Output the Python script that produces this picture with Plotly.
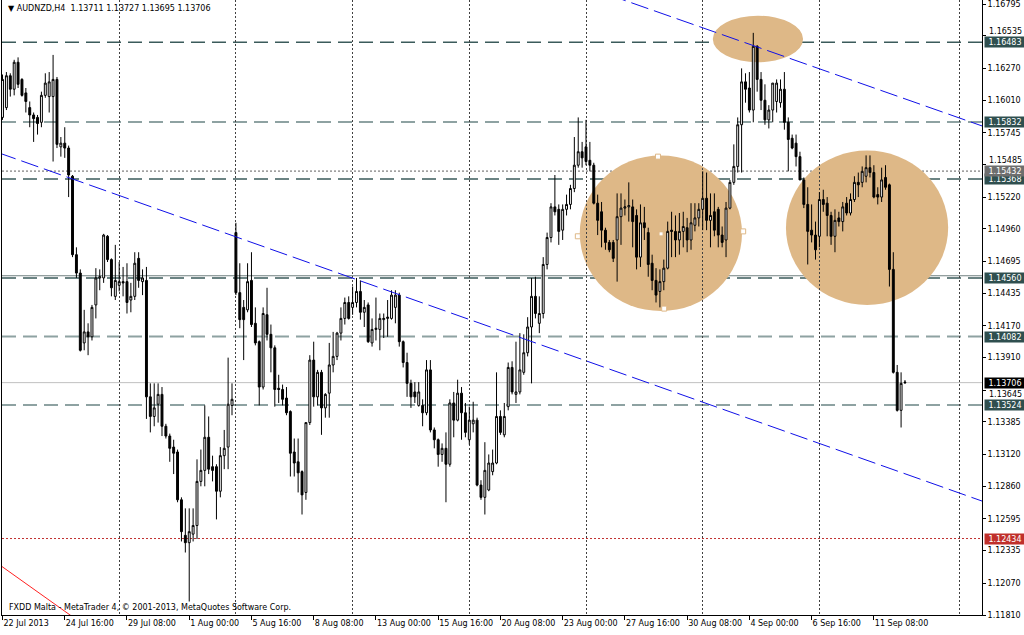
import plotly.graph_objects as go

# H4 bars, AUDNZD 22 Jul 2013 .. 12 Sep 2013 (bar index used as x)
OPEN = [
    1.1587, 1.1595, 1.1621, 1.1610, 1.1632, 1.1618, 1.1607, 1.1595, 1.1589, 1.1587,
    1.1583, 1.1605, 1.1604, 1.1604, 1.1618, 1.1563, 1.1566, 1.1562, 1.1539, 1.1475,
    1.1460, 1.1403, 1.1412, 1.1408, 1.1434, 1.1456, 1.1456, 1.1490, 1.1471, 1.1441,
    1.1450, 1.1453, 1.1453, 1.1438, 1.1441, 1.1472, 1.1453, 1.1454, 1.1359, 1.1343,
    1.1353, 1.1361, 1.1335, 1.1327, 1.1318, 1.1314, 1.1275, 1.1246, 1.1240, 1.1247,
    1.1254, 1.1290, 1.1299, 1.1326, 1.1302, 1.1302, 1.1282, 1.1311, 1.1318, 1.1352,
    1.1493, 1.1444, 1.1432, 1.1430, 1.1454, 1.1419, 1.1404, 1.1367, 1.1426, 1.1410,
    1.1399, 1.1366, 1.1365, 1.1358, 1.1347, 1.1314, 1.1306, 1.1298, 1.1281, 1.1338,
    1.1389, 1.1359, 1.1379, 1.1350, 1.1362, 1.1385, 1.1392, 1.1411, 1.1423, 1.1436,
    1.1432, 1.1436, 1.1445, 1.1428, 1.1434, 1.1403, 1.1414, 1.1414, 1.1422, 1.1423,
    1.1423, 1.1432, 1.1442, 1.1404, 1.1387, 1.1370, 1.1363, 1.1352, 1.1352, 1.1346,
    1.1381, 1.1332, 1.1324, 1.1312, 1.1317, 1.1304, 1.1354, 1.1340, 1.1362, 1.1346,
    1.1324, 1.1337, 1.1340, 1.1287, 1.1277, 1.1283, 1.1298, 1.1305, 1.1343, 1.1328,
    1.1351, 1.1383, 1.1361, 1.1363, 1.1379, 1.1395, 1.1416, 1.1441, 1.1419, 1.1427,
    1.1467, 1.1489, 1.1514, 1.1512, 1.1495, 1.1512, 1.1516, 1.1529, 1.1548, 1.1559,
    1.1563, 1.1552, 1.1548, 1.1517, 1.1510, 1.1495, 1.1485, 1.1485, 1.1487, 1.1506,
    1.1513, 1.1514, 1.1514, 1.1507, 1.1473, 1.1501, 1.1493, 1.1468, 1.1454, 1.1445,
    1.1453, 1.1464, 1.1495, 1.1494, 1.1487, 1.1494, 1.1497, 1.1487, 1.1499, 1.1505,
    1.1512, 1.1521, 1.1503, 1.1510, 1.1512, 1.1491, 1.1487, 1.1513, 1.1534, 1.1547,
    1.1581, 1.1616, 1.1611, 1.1593, 1.1645, 1.1618, 1.1601, 1.1585, 1.1593, 1.1600,
    1.1599, 1.1610, 1.1583, 1.1570, 1.1566, 1.1555, 1.1536, 1.1516, 1.1495, 1.1491,
    1.1490, 1.1520, 1.1517, 1.1507, 1.1490, 1.1505, 1.1502, 1.1517, 1.1509, 1.1520,
    1.1534, 1.1534, 1.1539, 1.1546, 1.1542, 1.1524, 1.1522, 1.1538, 1.1532, 1.1463,
    1.1379, 1.1348, 1.13711,
]
HIGH = [
    1.1622, 1.1624, 1.1623, 1.1634, 1.1636, 1.1619, 1.1611, 1.1600, 1.1591, 1.1589,
    1.1608, 1.1623, 1.1624, 1.1638, 1.1620, 1.1571, 1.1579, 1.1564, 1.1540, 1.1481,
    1.1463, 1.1430, 1.1419, 1.1434, 1.1464, 1.1463, 1.1492, 1.1491, 1.1472, 1.1483,
    1.1469, 1.1465, 1.1468, 1.1452, 1.1477, 1.1477, 1.1463, 1.1465, 1.1370, 1.1370,
    1.1370, 1.1367, 1.1337, 1.1329, 1.1324, 1.1316, 1.1277, 1.1268, 1.1268, 1.1268,
    1.1308, 1.1316, 1.1352, 1.1343, 1.1311, 1.1304, 1.1318, 1.1332, 1.1391, 1.1370,
    1.1501, 1.1468, 1.1438, 1.1468, 1.1477, 1.1432, 1.1405, 1.1432, 1.1448, 1.1418,
    1.1401, 1.1377, 1.1369, 1.1367, 1.1348, 1.1325, 1.1325, 1.1299, 1.1338, 1.1393,
    1.1404, 1.1381, 1.1381, 1.1362, 1.1403, 1.1412, 1.1412, 1.1432, 1.1440, 1.1441,
    1.1449, 1.1456, 1.1454, 1.1438, 1.1436, 1.1423, 1.1440, 1.1427, 1.1427, 1.1438,
    1.1446, 1.1446, 1.1444, 1.1405, 1.1395, 1.1373, 1.1371, 1.1371, 1.1357, 1.1389,
    1.1389, 1.1334, 1.1325, 1.1321, 1.1330, 1.1357, 1.1363, 1.1373, 1.1367, 1.1354,
    1.1351, 1.1355, 1.1342, 1.1291, 1.1322, 1.1312, 1.1316, 1.1379, 1.1348, 1.1354,
    1.1387, 1.1388, 1.1404, 1.1411, 1.1410, 1.1424, 1.1456, 1.1457, 1.1441, 1.1473,
    1.1493, 1.1517, 1.1540, 1.1516, 1.1516, 1.1524, 1.1532, 1.1571, 1.1587, 1.1567,
    1.1585, 1.1567, 1.1550, 1.1524, 1.1518, 1.1497, 1.1487, 1.1487, 1.1525, 1.1525,
    1.1520, 1.1534, 1.1520, 1.1512, 1.1516, 1.1514, 1.1497, 1.1475, 1.1464, 1.1463,
    1.1471, 1.1502, 1.1510, 1.1507, 1.1509, 1.1510, 1.1505, 1.1517, 1.1517, 1.1517,
    1.1543, 1.1542, 1.1525, 1.1525, 1.1514, 1.1498, 1.1518, 1.1536, 1.1565, 1.1587,
    1.1627, 1.1623, 1.1624, 1.1656, 1.1646, 1.1624, 1.1614, 1.1597, 1.1615, 1.1618,
    1.1618, 1.1624, 1.1587, 1.1573, 1.1573, 1.1559, 1.1538, 1.1530, 1.1516, 1.1502,
    1.1526, 1.1528, 1.1522, 1.1510, 1.1512, 1.1510, 1.1518, 1.1522, 1.1525, 1.1539,
    1.1542, 1.1547, 1.1556, 1.1556, 1.1548, 1.1530, 1.1546, 1.1548, 1.1533, 1.1477,
    1.1385, 1.1379, 1.13727,
]
LOW = [
    1.1585, 1.1593, 1.1604, 1.1605, 1.1611, 1.1604, 1.1591, 1.1579, 1.1567, 1.1573,
    1.1579, 1.1603, 1.1591, 1.1551, 1.1562, 1.1555, 1.1554, 1.1522, 1.1473, 1.1456,
    1.1396, 1.1397, 1.1393, 1.1405, 1.1423, 1.1446, 1.1452, 1.1469, 1.1441, 1.1438,
    1.1445, 1.1441, 1.1427, 1.1428, 1.1438, 1.1448, 1.1442, 1.1341, 1.1330, 1.1335,
    1.1338, 1.1327, 1.1325, 1.1306, 1.1296, 1.1273, 1.1241, 1.1232, 1.1192, 1.1241,
    1.1243, 1.1286, 1.1286, 1.1296, 1.1290, 1.1259, 1.1277, 1.1300, 1.1300, 1.1344,
    1.1442, 1.1415, 1.1389, 1.1428, 1.1416, 1.1401, 1.1352, 1.1365, 1.1405, 1.1379,
    1.1351, 1.1354, 1.1352, 1.1344, 1.1294, 1.1294, 1.1281, 1.1263, 1.1275, 1.1336,
    1.1351, 1.1352, 1.1328, 1.1342, 1.1342, 1.1379, 1.1389, 1.1405, 1.1418, 1.1422,
    1.1426, 1.1432, 1.1422, 1.1416, 1.1403, 1.1400, 1.1405, 1.1397, 1.1407, 1.1408,
    1.1422, 1.1419, 1.1400, 1.1383, 1.1359, 1.1350, 1.1354, 1.1351, 1.1335, 1.1344,
    1.1330, 1.1317, 1.1302, 1.1306, 1.1273, 1.1302, 1.1326, 1.1339, 1.1324, 1.1326,
    1.1320, 1.1330, 1.1286, 1.1275, 1.1263, 1.1282, 1.1295, 1.1304, 1.1328, 1.1326,
    1.1348, 1.1361, 1.1354, 1.1361, 1.1377, 1.1392, 1.1370, 1.1423, 1.1411, 1.1423,
    1.1463, 1.1485, 1.1507, 1.1483, 1.1487, 1.1507, 1.1512, 1.1526, 1.1546, 1.1546,
    1.1548, 1.1543, 1.1516, 1.1491, 1.1481, 1.1479, 1.1477, 1.1469, 1.1453, 1.1483,
    1.1507, 1.1502, 1.1481, 1.1463, 1.1465, 1.1487, 1.1457, 1.1446, 1.1436, 1.1432,
    1.1446, 1.1463, 1.1473, 1.1473, 1.1475, 1.1481, 1.1477, 1.1479, 1.1494, 1.1498,
    1.1495, 1.1495, 1.1481, 1.1490, 1.1481, 1.1481, 1.1473, 1.1512, 1.1532, 1.1542,
    1.1542, 1.1599, 1.1591, 1.1583, 1.1608, 1.1593, 1.1581, 1.1578, 1.1583, 1.1591,
    1.1595, 1.1577, 1.1543, 1.1561, 1.1547, 1.1536, 1.1513, 1.1467, 1.1485, 1.1471,
    1.1481, 1.1510, 1.1490, 1.1483, 1.1477, 1.1498, 1.1494, 1.1507, 1.1507, 1.1518,
    1.1522, 1.1530, 1.1534, 1.1538, 1.1521, 1.1516, 1.1518, 1.1528, 1.1449, 1.1378,
    1.1347, 1.1334, 1.13695,
]
CLOSE = [
    1.1618, 1.1621, 1.1610, 1.1632, 1.1614, 1.1605, 1.1600, 1.1589, 1.1586, 1.1582,
    1.1605, 1.1615, 1.1616, 1.1618, 1.1565, 1.1566, 1.1562, 1.1540, 1.1475, 1.1460,
    1.1397, 1.1412, 1.1408, 1.1432, 1.1456, 1.1457, 1.1491, 1.1471, 1.1448, 1.1454,
    1.1453, 1.1452, 1.1436, 1.1441, 1.1468, 1.1454, 1.1456, 1.1359, 1.1343, 1.1350,
    1.1361, 1.1335, 1.1327, 1.1317, 1.1313, 1.1275, 1.1249, 1.1240, 1.1249, 1.1254,
    1.1290, 1.1299, 1.1326, 1.1300, 1.1299, 1.1282, 1.1311, 1.1317, 1.1353, 1.1357,
    1.1444, 1.1422, 1.1422, 1.1453, 1.1418, 1.1403, 1.1367, 1.1427, 1.1410, 1.1399,
    1.1365, 1.1365, 1.1357, 1.1346, 1.1313, 1.1305, 1.1297, 1.1279, 1.1338, 1.1389,
    1.1359, 1.1379, 1.1350, 1.1361, 1.1385, 1.1392, 1.1411, 1.1423, 1.1436, 1.1423,
    1.1436, 1.1445, 1.1428, 1.1432, 1.1404, 1.1414, 1.1415, 1.1423, 1.1423, 1.1424,
    1.1442, 1.1442, 1.1404, 1.1387, 1.1370, 1.1359, 1.1359, 1.1363, 1.1346, 1.1381,
    1.1332, 1.1324, 1.1312, 1.1317, 1.1304, 1.1354, 1.1340, 1.1362, 1.1346, 1.1330,
    1.1340, 1.1340, 1.1287, 1.1277, 1.1299, 1.1305, 1.1305, 1.1343, 1.1330, 1.1343,
    1.1383, 1.1363, 1.1363, 1.1381, 1.1395, 1.1416, 1.1441, 1.1427, 1.1427, 1.1467,
    1.1489, 1.1514, 1.1510, 1.1494, 1.1512, 1.1516, 1.1529, 1.1548, 1.1559, 1.1554,
    1.1551, 1.1548, 1.1517, 1.1503, 1.1495, 1.1485, 1.1479, 1.1472, 1.1506, 1.1513,
    1.1514, 1.1515, 1.1502, 1.1473, 1.1501, 1.1497, 1.1467, 1.1454, 1.1442, 1.1453,
    1.1464, 1.1494, 1.1494, 1.1487, 1.1494, 1.1498, 1.1487, 1.1501, 1.1505, 1.1512,
    1.1521, 1.1503, 1.1507, 1.1495, 1.1491, 1.1485, 1.1513, 1.1534, 1.1547, 1.1581,
    1.1616, 1.1610, 1.1593, 1.1645, 1.1618, 1.1601, 1.1585, 1.1593, 1.1615, 1.1615,
    1.1610, 1.1583, 1.1569, 1.1562, 1.1555, 1.1536, 1.1516, 1.1494, 1.1491, 1.1479,
    1.1520, 1.1516, 1.1507, 1.1490, 1.1503, 1.1502, 1.1514, 1.1509, 1.1520, 1.1534,
    1.1532, 1.1543, 1.1546, 1.1542, 1.1522, 1.1522, 1.1536, 1.1530, 1.1463, 1.1379,
    1.1348, 1.1370, 1.13706,
]
BARS = list(range(len(CLOSE)))

# time axis labels, one every 16 bars
TICK_BARS = [0, 16, 32, 48, 64, 80, 96, 112, 128, 144, 160, 176, 192, 208, 224]
TICK_TEXT = ["22 Jul 2013", "24 Jul 16:00", "29 Jul 08:00", "1 Aug 00:00", "5 Aug 16:00",
             "8 Aug 08:00", "13 Aug 00:00", "15 Aug 16:00", "20 Aug 08:00", "23 Aug 00:00",
             "27 Aug 16:00", "30 Aug 08:00", "4 Sep 00:00", "6 Sep 16:00", "11 Sep 08:00"]
WEEK_GRID_BARS = [30, 60, 90, 120, 150, 180, 210, 246]

PRICE_TICKS = [1.16795, 1.16535, 1.16270, 1.16010, 1.15745, 1.15485, 1.15220, 1.14960,
               1.14695, 1.14435, 1.14170, 1.13910, 1.13645, 1.13385, 1.13120, 1.12860,
               1.12595, 1.12335, 1.12070, 1.11810]
# tick labels partly hidden by object labels: drawn as nudged annotations instead
NUDGED_TICKS = {1.16535: 4, 1.15485: 4, 1.13645: -4}

# horizontal objects
LEVELS_DARK = [1.16483, 1.15368, 1.14560]
LEVELS_LIGHT = [1.15832, 1.14082, 1.13524]
LEVEL_GRAY_DOT = 1.15432
LEVEL_RED_DOT = 1.12434
LEVEL_SOLID = 1.14578
BID = 1.13706

# trend lines: (bar, price) anchors
LOWER_TREND = [(0, 1.1557), (250, 1.1276)]
UPPER_TREND = [(181.9, 1.1658), (238.4, 1.1595)]
RED_TREND = [(0.1, 1.1220), (15.6, 1.1185)]

# ellipses: (bar0, bar1, price0, price1)
ELLIPSES = [(182.6, 205.8, 1.1632, 1.1670),
            (148.4, 190.1, 1.1429, 1.1556),
            (201.4, 243.1, 1.1434, 1.1560)]
HANDLE_BARS = [168.5, 147.9, 190.4, 170.1]
HANDLE_PRICES = [1.1555, 1.1490, 1.1494, 1.1431]
CENTER_BAR, CENTER_PRICE = 169.3, 1.1492

X_RANGE = [-0.13, 251.8]
Y_RANGE = [1.11810, 1.16828]
FONT = "DejaVu Sans"
TAN = "#deb887"


def extend(anchors, x_start, x_end):
    (xa, ya), (xb, yb) = anchors
    slope = (yb - ya) / (xb - xa)
    return [x_start, x_end], [ya + slope * (x_start - xa), ya + slope * (x_end - xa)]


fig = go.Figure()

fig.add_trace(go.Candlestick(
    x=BARS, open=OPEN, high=HIGH, low=LOW, close=CLOSE,
    increasing=dict(line=dict(color="black", width=1), fillcolor="white"),
    decreasing=dict(line=dict(color="black", width=1), fillcolor="black"),
    whiskerwidth=0, hoverinfo="skip",
))

for anchors, x0, x1, color, dash in [
    (LOWER_TREND, -1, 253, "#1010e8", "18px,6px"),
    (UPPER_TREND, 150, 253, "#1010e8", "18px,6px"),
    (RED_TREND, -1, 25, "#ff2020", "solid"),
]:
    xs, ys = extend(anchors, x0, x1)
    fig.add_trace(go.Scatter(x=xs, y=ys, mode="lines", hoverinfo="skip",
                             line=dict(color=color, width=1, dash=dash)))

# selection handles of the left ellipse
fig.add_trace(go.Scatter(
    x=HANDLE_BARS, y=HANDLE_PRICES, mode="markers", hoverinfo="skip",
    marker=dict(symbol="square", size=5, color="white", line=dict(color=TAN, width=1)),
))
fig.add_trace(go.Scatter(
    x=[CENTER_BAR], y=[CENTER_PRICE], mode="markers", hoverinfo="skip",
    marker=dict(symbol="square", size=3, color="white"),
))

shapes = []
for x0, x1, y0, y1 in ELLIPSES:
    shapes.append(dict(type="circle", xref="x", yref="y", x0=x0, x1=x1, y0=y0, y1=y1,
                       fillcolor=TAN, line=dict(width=0), layer="below"))


def hline(y, color, width, dash):
    return dict(type="line", xref="paper", yref="y", x0=0, x1=1, y0=y, y1=y,
                line=dict(color=color, width=width, dash=dash), layer="between")


for lvl in LEVELS_LIGHT:
    shapes.append(hline(lvl, "#8ea2a2", 2, "14px,7px"))
for lvl in LEVELS_DARK:
    shapes.append(hline(lvl, "#3b5b5b", 1.5, "14px,7px"))
shapes.append(hline(LEVEL_SOLID, "#6f7f7f", 1, "solid"))
shapes.append(hline(LEVEL_GRAY_DOT, "#606060", 1, "2px,2px"))
shapes.append(hline(LEVEL_RED_DOT, "#c03030", 1, "2px,2px"))
shapes.append(hline(BID, "#c0c0c0", 1, "solid"))

annotations = []
for price, shift in NUDGED_TICKS.items():
    annotations.append(dict(
        xref="paper", yref="y", x=1, y=price, xanchor="left", yanchor="middle",
        xshift=5, yshift=shift, text=f"{price:.5f}", showarrow=False,
        font=dict(family=FONT, size=8, color="black"),
    ))

# price labels on the right axis
labels = [(p, "#2f4f4f") for p in LEVELS_DARK + LEVELS_LIGHT]
labels += [(LEVEL_GRAY_DOT, "#6e6e6e"), (LEVEL_RED_DOT, "#c0302b"), (BID, "#000000")]
for price, bg in labels:
    annotations.append(dict(
        xref="paper", yref="y", x=1, y=price, xanchor="left", yanchor="middle",
        xshift=2, text=f"{price:.5f}", showarrow=False, bgcolor=bg, width=40,
        height=10, borderpad=0, font=dict(family=FONT, size=8, color="white"),
    ))

annotations.append(dict(
    xref="paper", yref="paper", x=0, y=1, xanchor="left", yanchor="top", xshift=4, yshift=-2,
    text="▼ AUDNZD,H4\u00a0\u00a01.13711 1.13727 1.13695 1.13706", showarrow=False,
    font=dict(family=FONT, size=8, color="black"),
))
annotations.append(dict(
    xref="paper", yref="paper", x=0, y=0, xanchor="left", yanchor="bottom", xshift=5, yshift=1,
    text="FXDD Malta - MetaTrader 4, © 2001-2013, MetaQuotes Software Corp.", showarrow=False,
    font=dict(family=FONT, size=8, color="black"),
))

fig.update_layout(
    width=1024, height=635, autosize=False,
    margin=dict(l=2, r=42, t=0, b=20),
    paper_bgcolor="white", plot_bgcolor="white",
    showlegend=False,
    shapes=shapes, annotations=annotations,
    font=dict(family=FONT, size=8, color="black"),
    xaxis=dict(
        range=X_RANGE, rangeslider=dict(visible=False), automargin=False,
        tickmode="array", tickvals=TICK_BARS, ticktext=TICK_TEXT, tickangle=0,
        ticks="outside", ticklen=4, tickcolor="black", ticklabelposition="outside right",
        showgrid=False, zeroline=False, showline=True, linecolor="black", linewidth=1,
        minor=dict(tickvals=WEEK_GRID_BARS, showgrid=True, gridcolor="#404040",
                   griddash="2px,2px", gridwidth=1, ticks=""),
        tickfont=dict(family=FONT, size=8, color="black"),
    ),
    yaxis=dict(
        side="right", range=Y_RANGE, automargin=False, ticklabeloverflow="allow",
        tickmode="array", tickvals=PRICE_TICKS,
        ticktext=["" if p in NUDGED_TICKS else f"{p:.5f}" for p in PRICE_TICKS],
        ticks="outside", ticklen=3, tickcolor="black",
        showgrid=False, zeroline=False, showline=True, mirror=True,
        linecolor="black", linewidth=1,
        tickfont=dict(family=FONT, size=8, color="black"),
    ),
)

fig.write_html("out.html", config={"displayModeBar": False},
               post_script="document.body.style.margin='0';")
